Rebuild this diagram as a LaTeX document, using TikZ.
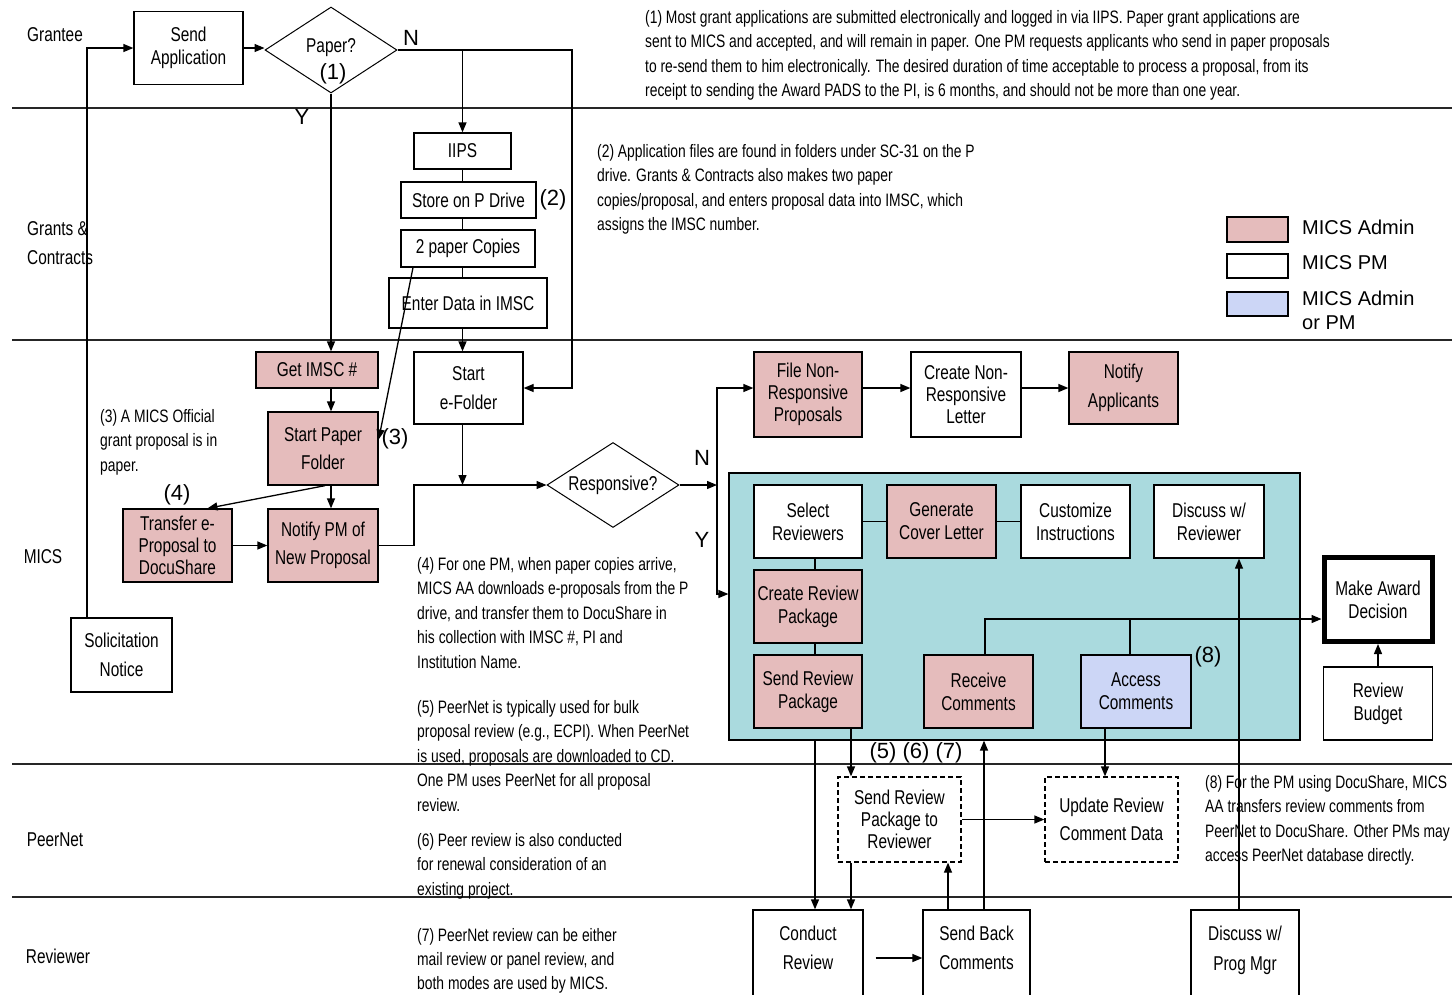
\documentclass[tikz,border=0pt]{standalone}
\usepackage{fontspec}
\setmainfont{Liberation Sans}
\newfontfamily\condf[FakeStretch=0.77]{Liberation Sans}
\newfontfamily\plainf{Liberation Sans}
\usetikzlibrary{arrows.meta,shapes.geometric}
\definecolor{adminpink}{RGB}{229,188,188}
\definecolor{reviewblue}{RGB}{170,218,222}
\definecolor{bothblue}{RGB}{204,214,246}
\tikzset{
  base/.style={draw=black, line width=1.3pt, align=center, inner sep=0pt,
    font=\condf\fontsize{20}{23}\selectfont},
  pm/.style={base, fill=white},
  admin/.style={base, fill=adminpink},
  either/.style={base, fill=bothblue},
  dashbox/.style={base, fill=white, dash pattern=on 5pt off 3pt},
  wide/.style={font=\condf\fontsize{20}{28.5}\selectfont},
  tight/.style={font=\condf\fontsize{20}{22}\selectfont},
  btext/.style={align=center, inner sep=0pt, font=\condf\fontsize{20}{29}\selectfont},
  decision/.style={draw=black, line width=1pt, diamond, inner sep=0pt, fill=white},
  conn/.style={line width=1.3pt},
  arr/.style={conn, -{Triangle[length=10pt,width=8pt]}},
  laneline/.style={line width=1.6pt, draw=black!85},
  note/.style={align=left, anchor=north west, inner sep=0pt,
    font=\condf\fontsize{18}{24.5}\selectfont},
  lanelbl/.style={inner sep=0pt, align=left, font=\condf\fontsize{20}{29}\selectfont},
  tag/.style={inner sep=0pt, font=\plainf\fontsize{22}{26}\selectfont},
  legendtxt/.style={inner sep=0pt, anchor=west, align=left, font=\plainf\fontsize{20}{24}\selectfont},
}
\begin{document}
\begin{tikzpicture}[x=1pt,y=-1pt]
\clip (0,0) rectangle (1452,994);
\fill[white] (0,0) rectangle (1452,994);

% swim lane separators
\draw[laneline] (12,108) -- (1452,108);
\draw[laneline] (12,340) -- (1452,340);
\draw[laneline] (12,764) -- (1452,764);
\draw[laneline] (12,897) -- (1452,897);

% lane labels
\node[lanelbl] (lgrantee) at (55,35) {Grantee};
\node[lanelbl, anchor=west] (lgc) at (27,243) {Grants \&\\Contracts};
\node[lanelbl] (lmics) at (43,557) {MICS};
\node[lanelbl] (lpeer) at (55,840) {PeerNet};
\node[lanelbl] (lrev) at (58,956) {Reviewer};

% review container
\node[draw=black, line width=1.2pt, fill=reviewblue, minimum width=571, minimum height=267, inner sep=0pt] (bluebox) at (1014.5,606.5) {};

% Grantee lane
\node[pm, minimum width=109, minimum height=73] (sendapp) at (188.5,48) {Send\\Application};
\node[decision, minimum width=132, minimum height=86] (paper) at (331,50) {};
\node[inner sep=0pt, font=\condf\fontsize{20}{23}\selectfont] (papertxt) at (331,48) {Paper?};
\node[tag] (t1) at (333,74) {(1)};

% Grants & Contracts lane
\node[pm, minimum width=97, minimum height=36] (iips) at (462.5,151) {IIPS};
\node[pm, minimum width=135, minimum height=36] (store) at (468.5,200) {Store on P Drive};
\node[pm, minimum width=134, minimum height=37] (copies) at (468,248.5) {2 paper Copies};
\node[pm, minimum width=158, minimum height=50] (enter) at (468,303) {Enter Data in IMSC};

% MICS lane
\node[admin, minimum width=122, minimum height=36] (gimsc) at (317,370) {Get IMSC \#};
\node[admin, wide, minimum width=110, minimum height=73] (spf) at (323,448.5) {Start Paper\\Folder};
\node[admin, wide, minimum width=110, minimum height=73] (notify) at (323,545.5) {Notify PM of\\New Proposal};
\node[admin, tight, minimum width=109, minimum height=73] (transfer) at (177.5,545.5) {Transfer e-\\Proposal to\\DocuShare};
\node[pm, wide, minimum width=101, minimum height=74] (solicit) at (121.5,655) {Solicitation\\Notice};
\node[pm, wide, minimum width=109, minimum height=72] (efolder) at (468.5,388) {Start\\e-Folder};
\node[decision, minimum width=132, minimum height=85] (resp) at (613,485) {};
\node[inner sep=0pt, font=\condf\fontsize{20}{23}\selectfont] (resptxt) at (613,485) {Responsive?};

\node[admin, tight, minimum width=108, minimum height=85] (filenr) at (808,394.5) {File Non-\\Responsive\\Proposals};
\node[pm, tight, minimum width=110, minimum height=85] (createnr) at (966,394.5) {Create Non-\\Responsive\\Letter};
\node[admin, wide, minimum width=109, minimum height=72] (notifyapp) at (1123.5,388) {Notify\\Applicants};

\node[pm, minimum width=108, minimum height=73] (select) at (808,521.5) {Select\\Reviewers};
\node[admin, minimum width=109, minimum height=73] (gencover) at (941.5,521.5) {Generate\\Cover Letter};
\node[pm, minimum width=109, minimum height=73] (customize) at (1075.5,521.5) {Customize\\Instructions};
\node[pm, minimum width=110, minimum height=73] (discussrev) at (1209,521.5) {Discuss w/\\Reviewer};
\node[admin, minimum width=108, minimum height=73] (createrp) at (808,606.5) {Create Review\\Package};
\node[admin, minimum width=108, minimum height=73] (sendrp) at (808,691.5) {Send Review\\Package};
\node[admin, minimum width=109, minimum height=73] (receive) at (978.5,691.5) {Receive\\Comments};
\node[either, minimum width=110, minimum height=73] (access) at (1136,691.5) {Access\\Comments};
\node[tag] (t8) at (1208,657) {(8)};

\node[draw=black, line width=5pt, fill=white, align=center, inner sep=0pt,
  font=\condf\fontsize{20}{23}\selectfont, minimum width=108, minimum height=84] (award) at (1378,599.5) {Make Award\\Decision};
\node[pm, minimum width=109, minimum height=73] (budget) at (1378,703.5) {Review\\Budget};

% PeerNet lane
\node[dashbox, tight, minimum width=123, minimum height=85] (sendrpr) at (899.5,819.5) {Send Review\\Package to\\Reviewer};
\node[dashbox, wide, minimum width=133, minimum height=85] (update) at (1111.5,819.5) {Update Review\\Comment Data};

% Reviewer lane
\node[pm, minimum width=110, minimum height=110] (conduct) at (808,965) {};
\node[btext] (conducttxt) at (808,948) {Conduct\\Review};
\node[pm, minimum width=107, minimum height=110] (sendback) at (976.5,965) {};
\node[btext] (sendbacktxt) at (976.5,948) {Send Back\\Comments};
\node[pm, minimum width=108, minimum height=110] (discusspm) at (1245,965) {};
\node[btext, font=\condf\fontsize{20}{30}\selectfont] (discusspmtxt) at (1245,950) {Discuss w/\\Prog Mgr};

% helper coordinates
\coordinate (gl) at (87,48);
\coordinate (nc) at (572,50);
\coordinate (jn) at (414,0);
\coordinate (ytap) at (717,594);
\coordinate (r8) at (985,619);
\coordinate (a8) at (1130,619);
\coordinate (c815) at (815,0);
\coordinate (c851) at (851,0);
\coordinate (c948) at (948,0);
\coordinate (c984) at (984,0);
\coordinate (c1105) at (1105,0);
\coordinate (c1239) at (1239,0);

% connectors: grantee
\draw[arr] (solicit.north -| gl) -- (gl) -- (gl -| sendapp.west);
\draw[arr] (sendapp.east) -- (sendapp.east -| paper.west);
\draw[arr] (paper.east) -- (nc) |- (efolder.east);
\draw[arr] (iips.north |- nc) -- (iips.north);
\draw[arr] (paper.south) -- (paper.south |- gimsc.north);

% grants & contracts chain
\draw[conn] (iips.south) -- (iips.south |- store.north);
\draw[conn] (iips.south |- store.south) -- (iips.south |- copies.north);
\draw[conn] (iips.south |- copies.south) -- (iips.south |- enter.north);
\draw[arr] (iips.south |- enter.south) -- (iips.south |- efolder.north);

% MICS paper path
\draw[arr] (paper.south |- gimsc.south) -- (paper.south |- spf.north);
\draw[arr] (paper.south |- spf.south) -- (paper.south |- notify.north);
\draw[arr] ([xshift=2pt]spf.south) -- ([xshift=30pt]transfer.north);
\draw[arr] (transfer.east) -- (notify.west);
\draw[arr] ([xshift=-55pt]copies.south) -- ([yshift=9pt]spf.east);

% to responsive decision
\draw[arr] (notify.east) -| (jn |- resp.west) -- (resp.west);
\draw[arr] (iips.south |- efolder.south) -- (iips.south |- resp.west);
\draw[arr] (resp.east) -- (resp.east -| ytap);
\draw[arr] (resp.east -| ytap) -- (ytap |- notifyapp.west) -- (filenr.west |- notifyapp.west);
\draw[arr] (resp.east -| ytap) -- (ytap) -- (ytap -| bluebox.west);
\draw[arr] (filenr.east |- notifyapp.west) -- (createnr.west |- notifyapp.west);
\draw[arr] (createnr.east |- notifyapp.west) -- (notifyapp.west);

% review package block
\draw[conn] (select.east) -- (gencover.west);
\draw[conn] (gencover.east) -- (customize.west);
\draw[conn] (select.south -| c815) -- (createrp.north -| c815);
\draw[conn] (createrp.south -| c815) -- (sendrp.north -| c815);
\draw[arr] (receive.north -| r8) -- (r8) -- (r8 -| award.west);
\draw[conn] (access.north -| a8) -- (a8);
\draw[arr] (budget.north) -- (award.south);

% to PeerNet / Reviewer
\draw[arr] (bluebox.south -| c815) -- (conduct.north -| c815);
\draw[arr] (sendrp.south -| c851) -- (sendrpr.north -| c851);
\draw[arr] (sendrpr.south -| c851) -- (conduct.north -| c851);
\draw[arr] (sendback.north -| c948) -- (sendrpr.south -| c948);
\draw[arr] (sendback.north -| c984) -- (bluebox.south -| c984);
\draw[arr] ([xshift=12pt]conduct.east |- 0,958) -- (sendback.west |- 0,958);
\draw[arr] (sendrpr.east) -- (update.west);
\draw[arr] (access.south -| c1105) -- (update.north -| c1105);
\draw[arr] (discusspm.north -| c1239) -- (discussrev.south -| c1239);

% decision labels and reference marks
\node[tag] (lN1) at (411,38) {N};
\node[tag] (lY1) at (302,117) {Y};
\node[tag] (lN2) at (702,458) {N};
\node[tag] (lY2) at (702,540) {Y};
\node[tag] (t2) at (553,200) {(2)};
\node[tag] (t3) at (395,439) {(3)};
\node[tag] (t4) at (177,495) {(4)};
\node[tag] (t567) at (916,753) {(5) (6) (7)};

% notes
\node[note] (n1) at (645,10) {(1) Most grant applications are submitted electronically and logged in via IIPS. Paper grant applications are\\
sent to MICS and accepted, and will remain in paper. One PM requests applicants who send in paper proposals\\
to re-send them to him electronically.  The desired duration of time acceptable to process a proposal, from its\\
receipt to sending  the Award PADS to the PI, is 6 months, and should not be more than one year.};
\node[note] (n2) at (597,144) {(2) Application files are found in folders under SC-31 on the P\\
drive. Grants \& Contracts also makes two paper\\
copies/proposal, and enters proposal data into IMSC, which\\
assigns the IMSC number.};
\node[note] (n3) at (100,409) {(3) A MICS Official\\grant proposal is in\\paper.};
\node[note] (n4) at (417,557) {(4) For one PM, when paper copies arrive,\\
MICS AA downloads e-proposals from the P\\
drive, and transfer them to DocuShare in\\
his collection with IMSC \#, PI and\\
Institution Name.};
\node[note] (n5) at (417,700) {(5) PeerNet is typically used for bulk\\
proposal review (e.g., ECPI).  When PeerNet\\
is used, proposals are downloaded to CD.\\
One PM uses PeerNet for all proposal\\
review.};
\node[note] (n6) at (417,833) {(6) Peer review is also conducted\\
for renewal consideration of an\\
existing project.};
\node[note, font=\condf\fontsize{18}{24}\selectfont] (n7) at (417,928) {(7) PeerNet review can be either\\
mail review or panel review, and\\
both modes are used by MICS.};
\node[note, font=\condf\fontsize{18}{24.5}\selectfont] (n8) at (1205,775) {(8) For the PM using DocuShare, MICS\\
AA transfers review comments from\\
PeerNet to DocuShare. Other PMs may\\
access PeerNet database directly.};

% legend
\node[admin, line width=1.1pt, minimum width=61, minimum height=25] (lg1) at (1257.5,229.5) {};
\node[pm, line width=1.1pt, minimum width=61, minimum height=24] (lg2) at (1257.5,266) {};
\node[either, line width=1.1pt, minimum width=61, minimum height=24] (lg3) at (1257.5,304) {};
\node[legendtxt] (lt1) at (1302,227) {MICS Admin};
\node[legendtxt] (lt2) at (1302,263) {MICS PM};
\node[legendtxt] (lt3) at (1302,310.5) {MICS Admin\\or PM};
\end{tikzpicture}
\end{document}
